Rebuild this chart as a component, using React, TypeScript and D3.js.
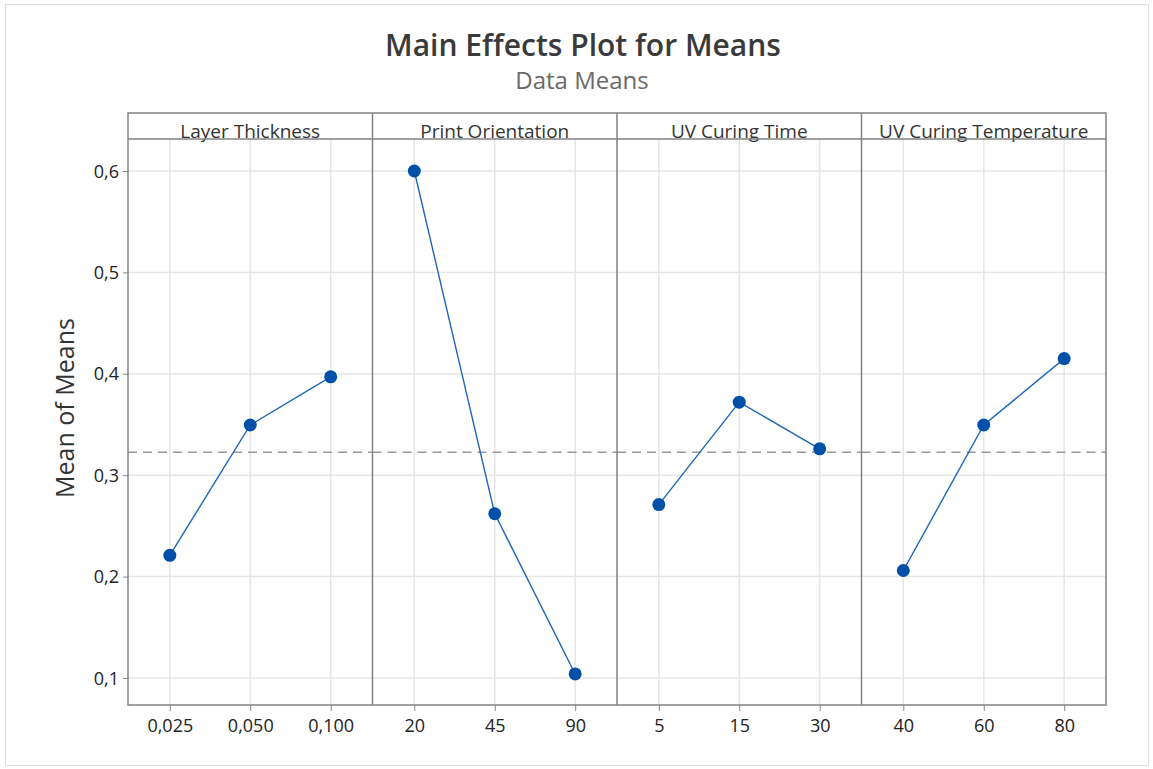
import React, { useEffect, useRef } from "react";
import * as d3 from "d3";

const factors = ["Layer Thickness", "Print Orientation", "UV Curing Time", "UV Curing Temperature"];
const levels = [
  ["0,025", "0,050", "0,100"],
  ["20", "45", "90"],
  ["5", "15", "30"],
  ["40", "60", "80"],
];
const means = [
  [0.221, 0.3495, 0.397],
  [0.6, 0.262, 0.104],
  [0.271, 0.372, 0.326],
  [0.206, 0.3495, 0.415],
];
const yTicks = [0.1, 0.2, 0.3, 0.4, 0.5, 0.6];

const W = 1153;
const H = 769;

export default function App() {
  const ref = useRef<SVGSVGElement>(null);

  useEffect(() => {
    const svg = d3.select(ref.current);
    svg.selectAll("*").remove();

    const font = "'Open Sans', 'Noto Sans', sans-serif";
    const left = 128, right = 1106, top = 113, strip = 139, bottom = 705;
    const panelW = (right - left) / factors.length;

    // faint outer frame
    svg.append("rect")
      .attr("x", 5.5).attr("y", 4.5)
      .attr("width", W - 10).attr("height", H - 8)
      .attr("fill", "white").attr("stroke", "#dcdcdc");

    svg.append("text")
      .attr("x", 583).attr("y", 56)
      .attr("text-anchor", "middle")
      .attr("font-family", font).attr("font-size", 30).attr("font-weight", 600)
      .attr("fill", "#3a3a3a")
      .text("Main Effects Plot for Means");

    svg.append("text")
      .attr("x", 582).attr("y", 89)
      .attr("text-anchor", "middle")
      .attr("font-family", font).attr("font-size", 24)
      .attr("fill", "#6a6a6a")
      .text("Data Means");

    const y = d3.scaleLinear().domain([0.6, 0.1]).range([171, 678]);

    // horizontal gridlines
    svg.append("g").selectAll("line").data(yTicks).enter().append("line")
      .attr("x1", left).attr("x2", right)
      .attr("y1", d => y(d)).attr("y2", d => y(d))
      .attr("stroke", "#e6e6e6").attr("stroke-width", 1.5);

    // y axis
    const yAxis = svg.append("g")
      .attr("transform", `translate(${left},0)`)
      .call(d3.axisLeft(y).tickValues(yTicks).tickSize(5).tickFormat(d => d3.format(".1f")(d as number).replace(".", ",")));
    yAxis.select(".domain").remove();
    yAxis.selectAll("line").attr("stroke", "#888");
    yAxis.selectAll("text")
      .attr("font-family", font).attr("font-size", 18).attr("fill", "#222")
      .attr("x", -9).attr("dy", "0.34em");

    svg.append("text")
      .attr("transform", `translate(74,408) rotate(-90)`)
      .attr("text-anchor", "middle")
      .attr("font-family", font).attr("font-size", 25)
      .attr("fill", "#333")
      .text("Mean of Means");

    const grand = d3.mean(means.flat()) as number;

    factors.forEach((f, i) => {
      const x0 = left + i * panelW;
      const x = d3.scalePoint<string>().domain(levels[i]).range([x0, x0 + panelW]).padding(0.52);
      const g = svg.append("g");

      // vertical gridlines
      g.selectAll("line.vg").data(levels[i]).enter().append("line")
        .attr("x1", d => x(d)!).attr("x2", d => x(d)!)
        .attr("y1", strip).attr("y2", bottom)
        .attr("stroke", "#e6e6e6").attr("stroke-width", 1.5);

      const xAxis = g.append("g")
        .attr("transform", `translate(0,${bottom})`)
        .call(d3.axisBottom(x).tickSize(6));
      xAxis.select(".domain").remove();
      xAxis.selectAll("line").attr("stroke", "#888");
      xAxis.selectAll("text")
        .attr("font-family", font).attr("font-size", 18).attr("fill", "#222")
        .attr("y", 14);

      g.append("text")
        .attr("x", x0 + panelW / 2).attr("y", 138)
        .attr("text-anchor", "middle")
        .attr("font-family", font).attr("font-size", 19)
        .attr("fill", "#333")
        .text(f);

      // grand mean reference
      g.append("line")
        .attr("x1", x0).attr("x2", x0 + panelW)
        .attr("y1", y(grand)).attr("y2", y(grand))
        .attr("stroke", "#999").attr("stroke-width", 1.5)
        .attr("stroke-dasharray", "9,6");

      const pts = means[i].map((v, j) => [x(levels[i][j])!, y(v)] as [number, number]);
      g.append("path")
        .attr("d", d3.line()(pts))
        .attr("fill", "none").attr("stroke", "#1f66b8").attr("stroke-width", 1.4);

      g.selectAll("circle").data(pts).enter().append("circle")
        .attr("cx", d => d[0]).attr("cy", d => d[1]).attr("r", 6.5)
        .attr("fill", "#0050a8");
    });

    // frame
    svg.append("rect")
      .attr("x", left).attr("y", top)
      .attr("width", right - left).attr("height", bottom - top)
      .attr("fill", "none").attr("stroke", "#828282").attr("stroke-width", 1.5);
    svg.append("line")
      .attr("x1", left).attr("x2", right)
      .attr("y1", strip).attr("y2", strip)
      .attr("stroke", "#828282").attr("stroke-width", 1.5);
    d3.range(1, factors.length).forEach(i => {
      svg.append("line")
        .attr("x1", left + i * panelW).attr("x2", left + i * panelW)
        .attr("y1", top).attr("y2", bottom)
        .attr("stroke", "#828282").attr("stroke-width", 1.5);
    });
  }, []);

  return (
    <svg
      ref={ref}
      width={W}
      height={H}
      style={{ position: "absolute", left: 0, top: 0, background: "white" }}
    />
  );
}
